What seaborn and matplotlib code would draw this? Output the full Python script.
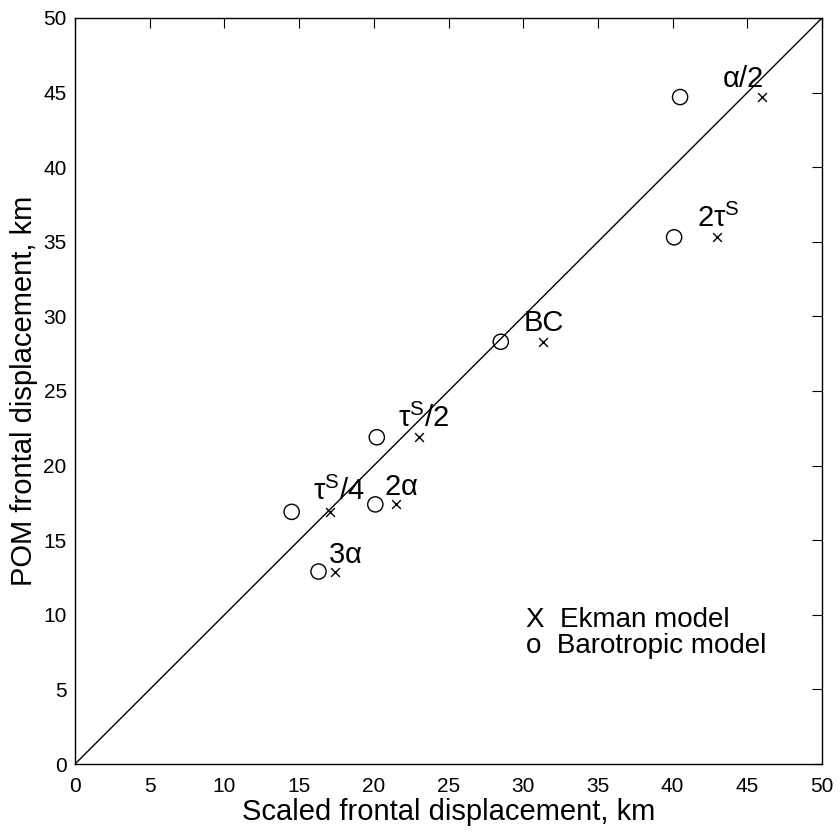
import numpy as np
import pandas as pd
import matplotlib
matplotlib.use("Agg")
import matplotlib.pyplot as plt
import seaborn as sns

# scaled vs POM frontal displacement (km)
ekman_x = [46.0, 43.0, 31.3, 23.0, 21.5, 17.1, 17.4]
ekman_y = [44.7, 35.3, 28.3, 21.9, 17.4, 16.9, 12.9]
baro_x = [40.5, 40.1, 28.5, 20.2, 20.1, 14.5, 16.3]
baro_y = [44.7, 35.3, 28.3, 21.9, 17.4, 16.9, 12.9]

labels = [r"$\mathrm{α/2}$", r"$\mathrm{2τ}^{\mathrm{S}}$", "BC",
          r"$\mathrm{τ}^{\mathrm{S}}\mathrm{/2}$", r"$\mathrm{2α}$",
          r"$\mathrm{τ}^{\mathrm{S}}\mathrm{/4}$", r"$\mathrm{3α}$"]
label_x = [43.3, 41.6, 30.0, 21.6, 20.7, 15.9, 16.9]
label_y = [45.4, 36.0, 29.0, 22.6, 18.0, 17.7, 13.5]

sns.set_style("white")
plt.rcParams["font.family"] = ["Liberation Sans", "DejaVu Sans"]
plt.rcParams["mathtext.fontset"] = "custom"
plt.rcParams["mathtext.rm"] = "Liberation Sans"
plt.rcParams["mathtext.it"] = "Liberation Sans"
plt.rcParams["text.color"] = "black"
plt.rcParams["axes.labelcolor"] = "black"

fig = plt.figure(figsize=(8.4, 8.32), dpi=100)
ax = fig.add_axes([0.0893, 0.0817, 0.8893, 0.8967])

ax.plot([0, 50], [0, 50], color="black", lw=1.0)

sns.scatterplot(x=ekman_x, y=ekman_y, marker="x", color="black", s=40,
                linewidth=1.0, ax=ax, legend=False)
sns.scatterplot(x=baro_x, y=baro_y, marker="o", facecolors="none",
                edgecolor="black", s=120, linewidth=1.0, ax=ax, legend=False)

for t, lx, ly in zip(labels, label_x, label_y):
    ax.text(lx, ly, t, fontsize=21, ha="left", va="baseline", color="black")

ax.text(30.2, 9.2, "X  Ekman model", fontsize=20, va="baseline", color="black")
ax.text(30.2, 7.45, "o  Barotropic model", fontsize=20, va="baseline", color="black")

ax.set_xlim(0, 50)
ax.set_ylim(0, 50)
ax.set_xticks(np.arange(0, 51, 5))
ax.set_yticks(np.arange(0, 51, 5))
ax.tick_params(direction="in", top=True, right=True, length=7, width=0.8,
               labelsize=15, colors="black")
ax.tick_params(axis="x", pad=9)
ax.tick_params(axis="y", pad=6)
for sp in ax.spines.values():
    sp.set_color("black")
    sp.set_linewidth(1.0)

ax.set_xlabel("Scaled frontal displacement, km", fontsize=21, labelpad=2)
ax.set_ylabel("POM frontal displacement, km", fontsize=21, labelpad=4)

fig.savefig("out.png", dpi=100)
